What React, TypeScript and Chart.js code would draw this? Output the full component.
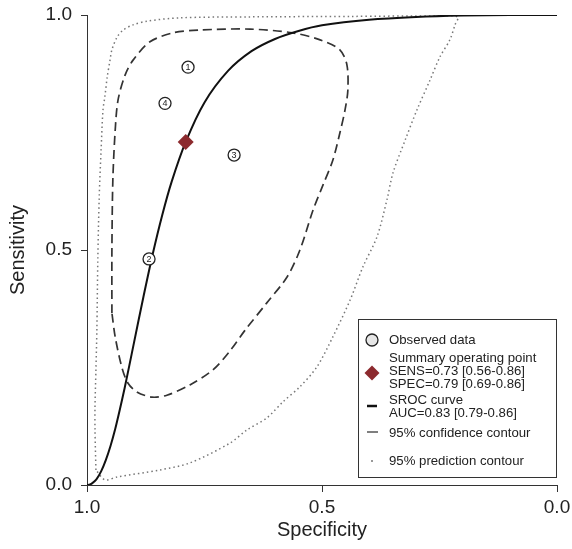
import React, { useEffect, useRef } from "react";
import { Chart, registerables } from "chart.js";
Chart.register(...registerables);

// Observed studies (specificity, sensitivity)
const studyIds = ["1", "2", "3", "4"];
const studySpec = [0.785, 0.868, 0.687, 0.834];
const studySens = [0.889, 0.481, 0.702, 0.812];

// Summary operating point
const summarySpec = [0.79];
const summarySens = [0.73];

// SROC curve
const srocSpec = [1.0, 0.995, 0.99, 0.98, 0.97, 0.96, 0.95, 0.94, 0.93, 0.92, 0.91, 0.9, 0.88, 0.86, 0.84, 0.82, 0.79, 0.75, 0.7, 0.65, 0.6, 0.55, 0.5, 0.4, 0.3, 0.2, 0.1, 0.0];
const srocSens = [0.0, 0.0007, 0.003, 0.012, 0.029, 0.053, 0.083, 0.119, 0.161, 0.206, 0.254, 0.303, 0.4, 0.492, 0.574, 0.645, 0.73, 0.814, 0.881, 0.923, 0.949, 0.966, 0.978, 0.99, 0.996, 0.999, 1.0, 1.0];

// 95% confidence contour
const confSpec = [0.947, 0.947, 0.945, 0.94, 0.934, 0.919, 0.902, 0.866, 0.817, 0.76, 0.653, 0.562, 0.504, 0.462, 0.447, 0.445, 0.451, 0.462, 0.477, 0.498, 0.519, 0.547, 0.574, 0.617, 0.664, 0.696, 0.732, 0.781, 0.83, 0.862, 0.894, 0.913, 0.926, 0.94, 0.947];
const confSens = [0.366, 0.5, 0.649, 0.755, 0.819, 0.872, 0.904, 0.943, 0.962, 0.968, 0.97, 0.962, 0.947, 0.926, 0.894, 0.84, 0.798, 0.749, 0.691, 0.638, 0.585, 0.5, 0.443, 0.388, 0.329, 0.285, 0.245, 0.213, 0.191, 0.187, 0.198, 0.217, 0.251, 0.315, 0.366];

// 95% prediction contour
const predSpec = [0.981, 0.983, 0.983, 0.981, 0.979, 0.977, 0.974, 0.97, 0.966, 0.962, 0.957, 0.951, 0.947, 0.936, 0.923, 0.902, 0.872, 0.802, 0.653, 0.44, 0.249, 0.211, 0.217, 0.228, 0.249, 0.27, 0.298, 0.323, 0.349, 0.362, 0.383, 0.413, 0.44, 0.477, 0.511, 0.547, 0.583, 0.617, 0.66, 0.696, 0.781, 0.845, 0.936, 0.962, 0.981];
const predSens = [0.032, 0.117, 0.166, 0.245, 0.33, 0.479, 0.613, 0.713, 0.798, 0.826, 0.868, 0.904, 0.926, 0.953, 0.968, 0.979, 0.987, 0.994, 0.996, 0.997, 0.998, 0.996, 0.979, 0.947, 0.911, 0.862, 0.798, 0.734, 0.664, 0.606, 0.528, 0.464, 0.394, 0.315, 0.251, 0.209, 0.177, 0.143, 0.117, 0.089, 0.047, 0.032, 0.017, 0.011, 0.032];

const axisTicks = [0, 0.5, 1];
const xTitle = "Specificity";
const yTitle = "Sensitivity";
const legendObserved = ["Observed data"];
const legendSummary = ["Summary operating point", "SENS=0.73 [0.56-0.86]", "SPEC=0.79 [0.69-0.86]"];
const legendSroc = ["SROC curve", "AUC=0.83 [0.79-0.86]"];
const legendConf = ["95% confidence contour"];
const legendPred = ["95% prediction contour"];

const FONT = '"Liberation Sans", Arial, Helvetica, sans-serif';
const RED = "#8c2a2e";

const zip = (xs: number[], ys: number[]) => xs.map((x, i) => ({ x, y: ys[i] }));

const overlay = {
  id: "overlay",
  afterDatasetsDraw(chart: any) {
    const ctx = chart.ctx;
    const meta = chart.getDatasetMeta(1);
    ctx.save();
    ctx.fillStyle = "#222";
    ctx.font = `9px ${FONT}`;
    ctx.textAlign = "center";
    ctx.textBaseline = "middle";
    meta.data.forEach((el: any, i: number) => {
      ctx.fillText(studyIds[i], el.x, el.y + 0.5);
    });
    ctx.restore();
  },
  afterDraw(chart: any) {
    const ctx = chart.ctx;
    const ca = chart.chartArea;
    ctx.save();
    ctx.fillStyle = "#222";
    ctx.font = `20px ${FONT}`;
    ctx.textAlign = "center";
    ctx.textBaseline = "middle";
    ctx.fillText(xTitle, (ca.left + ca.right) / 2, 530);
    ctx.save();
    ctx.translate(18, (ca.top + ca.bottom) / 2);
    ctx.rotate(-Math.PI / 2);
    ctx.fillText(yTitle, 0, 0);
    ctx.restore();

    // legend box
    ctx.strokeStyle = "#333";
    ctx.lineWidth = 1;
    ctx.strokeRect(358.5, 319.5, 198, 158);
    ctx.font = `13.2px ${FONT}`;
    ctx.textAlign = "left";
    const tx = 389;
    const mx = 372;
    // observed
    ctx.beginPath();
    ctx.arc(mx, 340, 6, 0, Math.PI * 2);
    ctx.fillStyle = "#e6e6e6";
    ctx.fill();
    ctx.lineWidth = 1.3;
    ctx.strokeStyle = "#222";
    ctx.stroke();
    ctx.fillStyle = "#222";
    ctx.fillText(legendObserved[0], tx, 340);
    // summary
    ctx.beginPath();
    ctx.moveTo(mx, 373 - 7.5);
    ctx.lineTo(mx + 7.5, 373);
    ctx.lineTo(mx, 373 + 7.5);
    ctx.lineTo(mx - 7.5, 373);
    ctx.closePath();
    ctx.fillStyle = RED;
    ctx.fill();
    ctx.fillStyle = "#222";
    legendSummary.forEach((s, i) => ctx.fillText(s, tx, 358 + i * 13));
    // sroc
    ctx.beginPath();
    ctx.moveTo(367, 406);
    ctx.lineTo(377, 406);
    ctx.lineWidth = 2.5;
    ctx.strokeStyle = "#111";
    ctx.stroke();
    legendSroc.forEach((s, i) => ctx.fillText(s, tx, 400 + i * 13));
    // conf
    ctx.beginPath();
    ctx.moveTo(367, 432);
    ctx.lineTo(378, 432);
    ctx.lineWidth = 1.5;
    ctx.strokeStyle = "#555";
    ctx.stroke();
    ctx.fillText(legendConf[0], tx, 433);
    // pred
    ctx.beginPath();
    ctx.arc(372, 461, 1, 0, Math.PI * 2);
    ctx.fillStyle = "#777";
    ctx.fill();
    ctx.fillStyle = "#222";
    ctx.fillText(legendPred[0], tx, 461);
    ctx.restore();
  },
};

export default function App() {
  const ref = useRef<HTMLCanvasElement>(null);
  useEffect(() => {
    document.body.style.margin = "0";
    const canvas = ref.current!;
    const tickFont = { family: FONT, size: 19 };
    const chart = new Chart(canvas, {
      type: "scatter",
      data: {
        datasets: [
          {
            label: "summary",
            data: zip(summarySpec, summarySens),
            pointStyle: "rectRot",
            pointRadius: 8,
            backgroundColor: RED,
            borderColor: RED,
            borderWidth: 0,
            order: 0,
          },
          {
            label: "observed",
            data: zip(studySpec, studySens),
            pointStyle: "circle",
            pointRadius: 6,
            backgroundColor: "#ffffff",
            borderColor: "#222",
            borderWidth: 1.3,
            order: 1,
          },
          {
            label: "sroc",
            data: zip(srocSpec, srocSens),
            showLine: true,
            pointRadius: 0,
            borderColor: "#111",
            borderWidth: 2,
            tension: 0.3,
            order: 2,
          },
          {
            label: "conf",
            data: zip(confSpec, confSens),
            showLine: true,
            pointRadius: 0,
            borderColor: "#333",
            borderWidth: 1.7,
            borderDash: [9, 5],
            tension: 0.3,
            order: 3,
          },
          {
            label: "pred",
            data: zip(predSpec, predSens),
            showLine: true,
            pointRadius: 0,
            borderColor: "#777",
            borderWidth: 1.5,
            borderDash: [1.5, 3],
            tension: 0.3,
            order: 4,
          },
        ],
      } as any,
      options: {
        animation: false,
        responsive: false,
        devicePixelRatio: 1,
        events: [],
        layout: { padding: { top: 15, right: 15, left: 0, bottom: 0 } },
        plugins: { legend: { display: false }, tooltip: { enabled: false } },
        scales: {
          x: {
            type: "linear",
            reverse: true,
            min: 0,
            max: 1,
            afterBuildTicks: (s: any) => {
              s.ticks = axisTicks.map((v) => ({ value: v }));
            },
            ticks: {
              callback: (v: any) => Number(v).toFixed(1),
              font: tickFont,
              color: "#222",
              padding: 4,
              maxRotation: 0,
              autoSkip: false,
            },
            grid: { drawOnChartArea: false, drawTicks: true, tickLength: 7, color: "#333" },
            border: { color: "#333", width: 1 },
            afterFit: (s: any) => {
              s.height = 64;
              s.paddingLeft = 0;
              s.paddingRight = 0;
            },
          },
          y: {
            type: "linear",
            min: 0,
            max: 1,
            afterBuildTicks: (s: any) => {
              s.ticks = axisTicks.map((v) => ({ value: v }));
            },
            ticks: {
              callback: (v: any) => Number(v).toFixed(1),
              font: tickFont,
              color: "#222",
              padding: 9,
              autoSkip: false,
            },
            grid: { drawOnChartArea: false, drawTicks: true, tickLength: 6, color: "#333" },
            border: { color: "#333", width: 1 },
            afterFit: (s: any) => {
              s.width = 87;
              s.paddingTop = 0;
              s.paddingBottom = 0;
            },
          },
        },
      } as any,
      plugins: [overlay],
    });
    return () => chart.destroy();
  }, []);
  return (
    <div style={{ width: 572, height: 549 }}>
      <canvas ref={ref} width={572} height={549} style={{ display: "block" }} />
    </div>
  );
}
